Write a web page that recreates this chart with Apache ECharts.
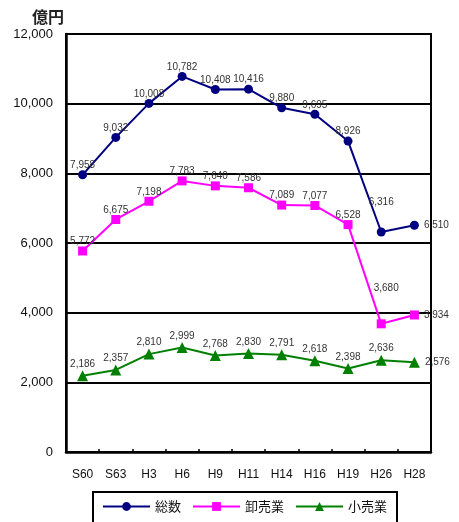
<!DOCTYPE html>
<html>
<head>
<meta charset="utf-8">
<script src="https://cdn.jsdelivr.net/npm/echarts@6/dist/echarts.min.js"></script>
<style>
  html, body { margin: 0; padding: 0; background: #fff; }
  #chart { width: 459px; height: 522px; }
</style>
</head>
<body>
<div id="chart"></div>
<script>
// 年次区分
const years = ['S60', 'S63', 'H3', 'H6', 'H9', 'H11', 'H14', 'H16', 'H19', 'H26', 'H28'];
// 年間商品販売額（億円）
const total = [7958, 9032, 10008, 10782, 10408, 10416, 9880, 9695, 8926, 6316, 6510];
const wholesale = [5772, 6675, 7198, 7783, 7640, 7586, 7089, 7077, 6528, 3680, 3934];
const retail = [2186, 2357, 2810, 2999, 2768, 2830, 2791, 2618, 2398, 2636, 2576];
const yTicks = [0, 2000, 4000, 6000, 8000, 10000, 12000];

const FONT = '"Liberation Sans", Arial, "Noto Sans CJK JP", sans-serif';
const JP = '"Noto Sans CJK JP", "Liberation Sans", sans-serif';

const fmt = v => v.toLocaleString('en-US');

// 最終年のラベルは右側、H26 は少し上に逃がす
function points(values, extra) {
  return values.map((v, i) => {
    const p = { value: v };
    if (i === values.length - 1) {
      p.label = { position: 'right', distance: 5 };
    } else if (extra && extra[i]) {
      p.label = extra[i];
    }
    return p;
  });
}

const labelBase = {
  show: true,
  position: 'top',
  distance: 0,
  fontSize: 10,
  fontFamily: FONT,
  color: '#333',
  formatter: p => fmt(p.value)
};

const chart = echarts.init(document.getElementById('chart'), null, { renderer: 'canvas' });

chart.setOption({
  animation: false,
  backgroundColor: '#fff',
  title: {
    text: '億円',
    left: 27,
    top: 4,
    textStyle: { fontFamily: JP, fontSize: 16, fontWeight: 'bold', color: '#222' }
  },
  grid: {
    left: 66, right: 28, top: 34, bottom: 70,
    show: true, borderColor: '#000', borderWidth: 2
  },
  legend: {
    left: 93,
    top: 492,
    padding: [8, 10, 10, 9],
    itemGap: 11,
    itemWidth: 47,
    itemHeight: 11,
    borderColor: '#000',
    borderWidth: 2,
    textStyle: { fontFamily: JP, fontSize: 13, color: '#111' },
    data: ['総数', '卸売業', '小売業']
  },
  xAxis: {
    type: 'category',
    data: years,
    boundaryGap: true,
    axisLine: { lineStyle: { color: '#000', width: 2.5 } },
    axisTick: { show: true, inside: true, length: 3, lineStyle: { color: '#000', width: 1.5 } },
    axisLabel: { fontFamily: FONT, fontSize: 12, color: '#111', margin: 17 },
    splitLine: { show: false }
  },
  yAxis: [{
    type: 'value',
    min: yTicks[0],
    max: yTicks[yTicks.length - 1],
    interval: 2000,
    axisLine: { show: true, lineStyle: { color: '#000', width: 2.5 } },
    axisTick: { show: false },
    axisLabel: { fontFamily: FONT, fontSize: 13, color: '#111', margin: 13, formatter: v => fmt(v) },
    splitLine: { show: true, lineStyle: { color: '#000', width: 2 } }
  }, {
    // 右側の枠線をラベルの上に重ねる
    type: 'value',
    position: 'right',
    min: yTicks[0],
    max: yTicks[yTicks.length - 1],
    interval: 2000,
    z: 10,
    axisLine: { show: true, lineStyle: { color: '#000', width: 2 } },
    axisTick: { show: false },
    axisLabel: { show: false },
    splitLine: { show: false }
  }],
  series: [
    {
      name: '総数',
      type: 'line',
      data: points(total, { 9: { distance: 20 } }),
      symbol: 'circle',
      symbolSize: 9,
      lineStyle: { color: '#000080', width: 2 },
      itemStyle: { color: '#000080' },
      label: labelBase
    },
    {
      name: '卸売業',
      type: 'line',
      data: points(wholesale, { 9: { distance: 26, offset: [5, 0] } }),
      symbol: 'rect',
      symbolSize: 9,
      lineStyle: { color: '#FF00FF', width: 2 },
      itemStyle: { color: '#FF00FF' },
      label: labelBase
    },
    {
      name: '小売業',
      type: 'line',
      data: points(retail),
      symbol: 'triangle',
      symbolSize: 11,
      lineStyle: { color: '#008000', width: 2 },
      itemStyle: { color: '#008000' },
      label: Object.assign({}, labelBase, { distance: 1 })
    }
  ]
});
</script>
</body>
</html>
